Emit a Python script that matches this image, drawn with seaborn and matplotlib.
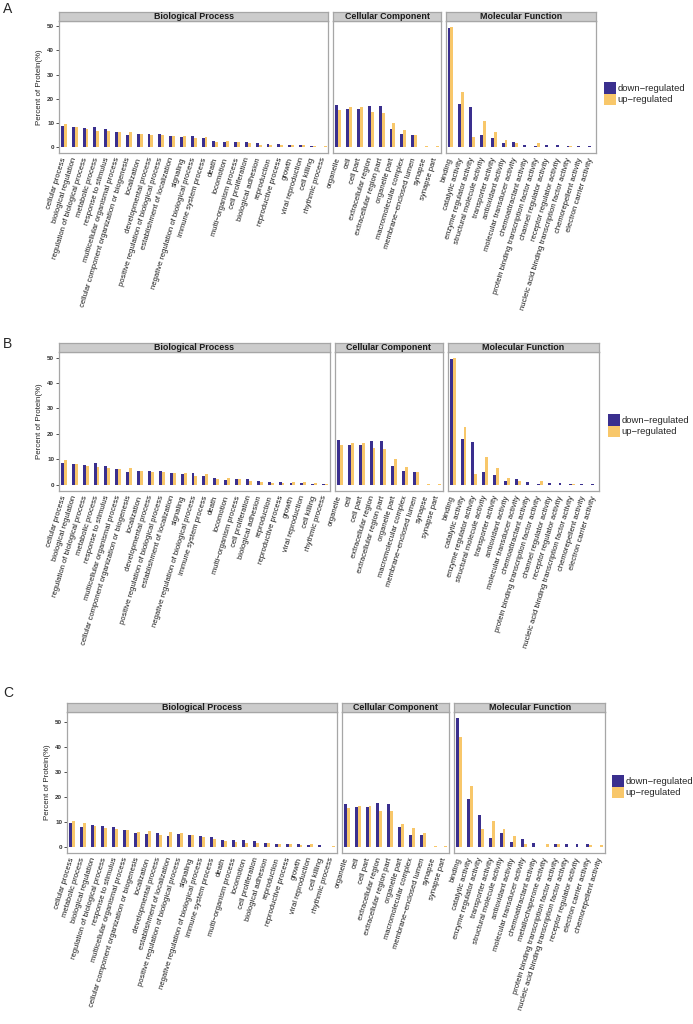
import numpy as np
import pandas as pd
import matplotlib
matplotlib.use('Agg')
import matplotlib.pyplot as plt
import seaborn as sns

# ---- data (percent of proteins), panels A and B share the same values ----
groups = ['down\u2212regulated', 'up\u2212regulated']
colors = ['#3A2F8E', '#F8C76A']

bp_terms_ab = ['cellular process', 'biological regulation', 'regulation of biological process',
               'metabolic process', 'response to stimulus', 'multicellular organismal process',
               'cellular component organization or biogenesis', 'localization', 'developmental process',
               'positive regulation of biological process', 'establishment of localization', 'signaling',
               'negative regulation of biological process', 'immune system process', 'death',
               'locomotion', 'multi\u2212organism process', 'cell proliferation', 'biological adhesion',
               'reproduction', 'reproductive process', 'growth', 'viral reproduction', 'cell killing',
               'rhythmic process']
bp_down_ab = [8.6, 8.1, 7.8, 8.4, 7.5, 6.3, 4.8, 5.3, 5.2, 5.2, 4.5, 4.1, 4.5, 3.6, 2.6,
              1.9, 2.2, 2.2, 1.5, 1.2, 1.2, 0.8, 0.8, 0.4, 0.1]
bp_up_ab = [9.6, 8.1, 7.5, 6.8, 6.6, 6.3, 6.4, 5.2, 4.8, 4.9, 4.7, 4.6, 3.6, 4.2, 2.2,
            2.6, 2.1, 1.6, 1.0, 0.8, 0.8, 1.0, 0.9, 0.5, 0.3]

cc_terms = ['organelle', 'cell', 'cell part', 'extracellular region', 'extracellular region part',
            'organelle part', 'macromolecular complex', 'membrane\u2212enclosed lumen', 'synapse',
            'synapse part']
cc_down_ab = [17.5, 15.8, 15.8, 17.1, 17.1, 7.5, 5.2, 4.8, 0.0, 0.0]
cc_up_ab = [15.5, 16.4, 16.4, 14.4, 14.2, 10.0, 7.1, 4.8, 0.4, 0.4]

mf_terms_ab = ['binding', 'catalytic activity', 'enzyme regulator activity', 'structural molecule activity',
               'transporter activity', 'antioxidant activity', 'molecular transducer activity',
               'chemoattractant activity', 'protein binding transcription factor activity',
               'channel regulator activity', 'receptor regulator activity',
               'nucleic acid binding transcription factor activity', 'chemorepellent activity',
               'electron carrier activity']
mf_down_ab = [49.3, 17.8, 16.6, 5.1, 3.8, 1.5, 2.2, 1.0, 0.3, 0.7, 0.7, 0.4, 0.4, 0.4]
mf_up_ab = [49.7, 22.6, 4.1, 10.7, 6.4, 2.7, 1.6, 0.0, 1.6, 0.0, 0.0, 0.4, 0.0, 0.0]

# ---- panel C ----
bp_terms_c = ['cellular process', 'metabolic process', 'biological regulation',
              'regulation of biological process', 'response to stimulus', 'multicellular organismal process',
              'cellular component organization or biogenesis', 'localization', 'developmental process',
              'establishment of localization', 'positive regulation of biological process', 'signaling',
              'negative regulation of biological process', 'immune system process', 'death',
              'multi\u2212organism process', 'locomotion', 'cell proliferation', 'biological adhesion',
              'reproduction', 'reproductive process', 'growth', 'viral reproduction', 'cell killing',
              'rhythmic process']
bp_down_c = [9.5, 7.9, 8.7, 8.3, 7.9, 6.7, 5.5, 5.1, 5.5, 4.3, 4.9, 4.5, 4.1, 3.9, 2.7,
             2.7, 2.7, 2.4, 1.6, 1.1, 1.1, 1.1, 0.7, 0.5, 0.0]
bp_up_c = [10.4, 9.5, 8.4, 7.6, 7.2, 6.5, 5.9, 6.3, 4.8, 6.0, 5.3, 4.5, 4.0, 3.1, 2.3,
           1.7, 1.5, 1.5, 1.3, 1.1, 1.1, 0.7, 1.1, 0.0, 0.2]

cc_down_c = [17.2, 16.0, 16.0, 17.5, 17.0, 7.9, 4.7, 4.7, 0.0, 0.0]
cc_up_c = [15.6, 16.5, 16.5, 14.5, 14.5, 9.1, 7.5, 5.3, 0.4, 0.4]

mf_terms_c = ['binding', 'catalytic activity', 'enzyme regulator activity', 'transporter activity',
              'structural molecule activity', 'antioxidant activity', 'molecular transducer activity',
              'chemoattractant activity', 'metallochaperone activity',
              'protein binding transcription factor activity',
              'nucleic acid binding transcription factor activity', 'receptor regulator activity',
              'electron carrier activity', 'chemorepellent activity']
mf_down_c = [51.6, 19.1, 12.7, 3.5, 5.3, 1.7, 2.9, 1.3, 0.0, 1.1, 1.1, 1.1, 1.1, 0.0]
mf_up_c = [44.0, 24.3, 6.9, 10.3, 6.9, 4.4, 1.1, 0.0, 1.1, 1.1, 0.0, 0.0, 0.5, 0.5]

facet_names = ['Biological Process', 'Cellular Component', 'Molecular Function']

W, H = 693, 1024
sns.set_style('white')
plt.rcParams['font.family'] = ['Liberation Sans', 'DejaVu Sans']


def facet_frame(terms, down, up):
    return pd.DataFrame({'term': terms * 2,
                         'group': [groups[0]] * len(terms) + [groups[1]] * len(terms),
                         'value': down + up})


def draw_panel(fig, letter, facets, box, leg_xy, letter_xy):
    # box in pixels: left, right, top, bottom of the plotting area
    left, right, top, bottom = box
    gap = 5
    strip_h = 9
    units = [len(f[0]) - 0.1 for f in facets]
    scale = (right - left - gap * (len(facets) - 1)) / sum(units)
    ymax = max(max(f[1] + f[2]) for f in facets)
    x0 = left
    handles = None
    for i, (terms, down, up) in enumerate(facets):
        w = units[i] * scale
        ax = fig.add_axes([x0 / W, 1 - bottom / H, w / W, (bottom - top) / H])
        df = facet_frame(terms, down, up)
        sns.barplot(data=df, x='term', y='value', hue='group', order=terms, hue_order=groups,
                    palette=colors, width=0.54, saturation=1, linewidth=0, edgecolor='none', ax=ax)
        if handles is None:
            handles, labels = ax.get_legend_handles_labels()
        if ax.get_legend() is not None:
            ax.get_legend().remove()
        ax.set_xlim(-0.45, len(terms) - 0.55)
        ax.set_ylim(-0.05 * ymax, 1.05 * ymax)
        ax.set_xlabel('')
        ax.set_xticks(range(len(terms)))
        ax.set_xticklabels(terms, rotation=73, ha='right', va='center', rotation_mode='anchor',
                           fontsize=5.5, color='#1A1A1A')
        ax.tick_params(axis='x', length=2, width=0.6, pad=1.5, color='#333333')
        if i == 0:
            ax.set_yticks([0, 10, 20, 30, 40, 50])
            ax.set_yticklabels(['0', '10', '20', '30', '40', '50'], fontsize=4.5,
                               fontweight='bold', color='#333333')
            ax.tick_params(axis='y', length=2, width=0.6, pad=1.5, color='#333333', left=True)
            ax.set_ylabel('Percent of Protein(%)', fontsize=5.7, labelpad=3)
        else:
            ax.set_yticks([])
            ax.set_ylabel('')
        for s in ax.spines.values():
            s.set_color('#A6A6A6')
            s.set_linewidth(0.9)
        # facet strip
        sax = fig.add_axes([x0 / W, 1 - top / H, w / W, strip_h / H])
        sax.set_facecolor('#CCCCCC')
        sax.set_xticks([])
        sax.set_yticks([])
        for s in sax.spines.values():
            s.set_color('#A6A6A6')
            s.set_linewidth(0.9)
        sax.text(0.5, 0.45, facet_names[i], ha='center', va='center', fontsize=6.4,
                 fontweight='bold', color='#1A1A1A', transform=sax.transAxes)
        x0 += w + gap
    for h in handles:
        h.set_edgecolor('none')
    fig.legend(handles, labels, loc='upper left', bbox_to_anchor=(leg_xy[0] / W, 1 - leg_xy[1] / H),
               frameon=False, fontsize=6.8, handlelength=1.3, handleheight=1.5, labelspacing=0.0,
               handletextpad=0.15, borderpad=0, borderaxespad=0)
    fig.text(letter_xy[0] / W, 1 - letter_xy[1] / H, letter, fontsize=10, ha='left', va='top')


fig = plt.figure(figsize=(W / 100, H / 100), dpi=100)

facets_ab = [(bp_terms_ab, bp_down_ab, bp_up_ab),
             (cc_terms, cc_down_ab, cc_up_ab),
             (mf_terms_ab, mf_down_ab, mf_up_ab)]
facets_c = [(bp_terms_c, bp_down_c, bp_up_c),
            (cc_terms, cc_down_c, cc_up_c),
            (mf_terms_c, mf_down_c, mf_up_c)]

draw_panel(fig, 'A', facets_ab, (59, 596, 21, 153), (604, 82), (3, 2))
draw_panel(fig, 'B', facets_ab, (59, 599, 352, 491), (608, 414), (3, 337))
draw_panel(fig, 'C', facets_c, (67, 605, 712, 853), (612, 775), (3, 686))

fig.savefig('out.png', dpi=100)
